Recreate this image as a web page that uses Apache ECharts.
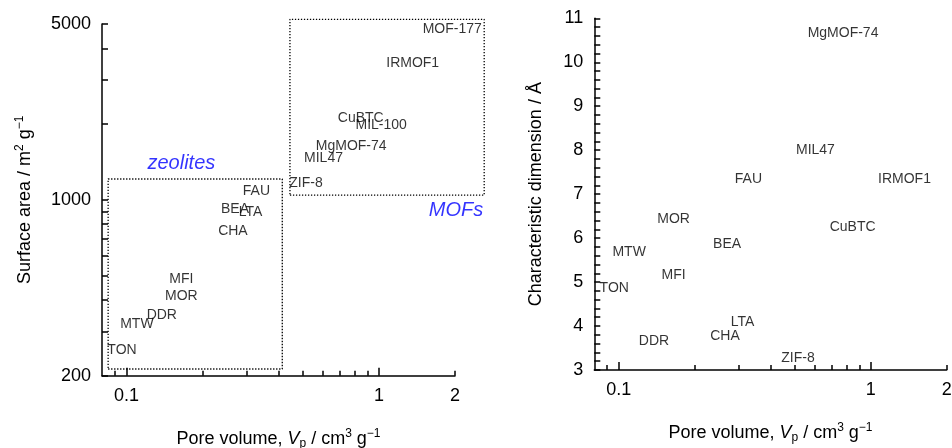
<!DOCTYPE html>
<html>
<head>
<meta charset="utf-8">
<script src="https://cdn.jsdelivr.net/npm/echarts@6/dist/echarts.min.js"></script>
<style>
html,body{margin:0;padding:0;background:#fff;}
#chart{width:952px;height:448px;}
</style>
</head>
<body>
<div id="chart"></div>
<script>
// ---- data ----
const materials = ['TON','MTW','DDR','MFI','MOR','CHA','BEA','LTA','FAU','ZIF-8','MIL47','MgMOF-74','CuBTC','MIL-100','IRMOF1','MOF-177'];
const poreVolume = [0.096, 0.110, 0.138, 0.165, 0.165, 0.264, 0.269, 0.310, 0.327, 0.514, 0.603, 0.776, 0.847, 1.02, 1.36, 1.95];
const surfaceArea = [253, 321, 349, 483, 415, 754, 919, 894, 1084, 1163, 1471, 1637, 2109, 1984, 3510, 4764];
const charDimension = [4.86, 5.68, 3.66, 5.16, 6.44, 3.77, 5.87, 4.10, 7.35, 3.27, 8.00, 10.66, 6.25, null, 7.35, null];

const zeoliteBoxX = [0.0846, 0.414];
const zeoliteBoxY = [212.6, 1210];
const mofBoxX = [0.444, 2.61];
const mofBoxY = [1045, 5220];

const groupLabels = ['zeolites', 'MOFs'];
const groupLabelX = [0.165, 2.02];
const groupLabelY = [1397, 906];

const xTickValues = [0.09,0.1,0.2,0.3,0.4,0.5,0.6,0.7,0.8,0.9,1,2];
const xMajorTicks = [0.1, 1];
const xLabelValues = [0.1, 1, 2];
const saTickValues = [200,300,400,500,600,700,800,900,1000,2000,3000,4000,5000];
const saLabelValues = [200, 1000, 5000];

const X_MIN = 0.08, X_MAX = 2;
const SA_MIN = 200, SA_MAX = 5000;

// ---- layout ----
const G0 = {left: 102, top: 24, width: 353, height: 351.7};
const G1 = {left: 594.3, top: 18.3, width: 352.4, height: 351.7};
// an enlarged, invisible copy of the left grid (same scale) so the dotted MOF box may run past the axes
const BOX_X_MAX = 2.8, BOX_Y_MAX = 5400;
const pxPerDecX = G0.width / Math.log10(X_MAX / X_MIN);
const pxPerDecY = G0.height / Math.log10(SA_MAX / SA_MIN);
const G2 = {
  left: G0.left,
  top: G0.top - pxPerDecY * Math.log10(BOX_Y_MAX / SA_MAX),
  width: pxPerDecX * Math.log10(BOX_X_MAX / X_MIN),
  height: G0.height + pxPerDecY * Math.log10(BOX_Y_MAX / SA_MAX)
};

// ---- styles ----
const FONT = 'Liberation Sans, Arial, sans-serif';
const INK = '#000';
const richName = {
  b: {fontSize: 18, fontFamily: FONT, color: INK, lineHeight: 22},
  it: {fontSize: 18, fontFamily: FONT, color: INK, fontStyle: 'italic', lineHeight: 22},
  sup: {fontSize: 12, fontFamily: FONT, color: INK, verticalAlign: 'top', lineHeight: 10},
  sub: {fontSize: 12, fontFamily: FONT, color: INK, verticalAlign: 'bottom', lineHeight: 10}
};

function fmtNum(v) {
  const r = Math.round(v * 1000) / 1000;
  return String(r);
}

function xAxisSet(gridIndex) {
  return [{
    type: 'log', logBase: 10, gridIndex: gridIndex, min: X_MIN, max: X_MAX,
    name: '{b|Pore volume, }{it|V}{sub|p}{b| / cm}{sup|3}{b| g}{sup|\u22121}',
    nameLocation: 'middle', nameGap: 52,
    nameTextStyle: {rich: richName, fontSize: 18, fontFamily: FONT, color: INK},
    axisLine: {show: true, onZero: false, lineStyle: {color: INK, width: 1.5}},
    axisTick: {show: true, inside: true, length: 5, customValues: xTickValues, lineStyle: {color: INK, width: 1.5}},
    axisLabel: {show: true, customValues: xLabelValues, margin: 11, fontSize: 18, fontFamily: FONT, color: INK, formatter: fmtNum},
    splitLine: {show: false}, minorTick: {show: false}
  }, {
    type: 'log', logBase: 10, gridIndex: gridIndex, min: X_MIN, max: X_MAX, position: 'bottom',
    axisLine: {show: false, onZero: false},
    axisTick: {show: true, inside: true, length: 8, customValues: xMajorTicks, lineStyle: {color: INK, width: 1.5}},
    axisLabel: {show: false}, splitLine: {show: false}
  }];
}

function boxPath(xs, ys) {
  return [[xs[0], ys[0]], [xs[1], ys[0]], [xs[1], ys[1]], [xs[0], ys[1]], [xs[0], ys[0]]];
}

const leftData = materials.map((n, i) => ({name: n, value: [poreVolume[i], surfaceArea[i]]}));
const rightData = [];
materials.forEach((n, i) => { if (charDimension[i] != null) rightData.push({name: n, value: [poreVolume[i], charDimension[i]]}); });
const groupData = groupLabels.map((n, i) => ({name: n, value: [groupLabelX[i], groupLabelY[i]]}));

const labelStyle = {show: true, position: 'inside', formatter: p => p.name, fontSize: 14, fontFamily: FONT, color: '#000'};
const gridBase = {containLabel: false, outerBoundsMode: 'none'};
const boxLine = {color: '#000', width: 1.3, type: [1.3, 1.7]};

const chart = echarts.init(document.getElementById('chart'), null, {renderer: 'canvas'});
chart.setOption({
  animation: false,
  backgroundColor: '#fff',
  grid: [
    Object.assign({}, gridBase, G0),
    Object.assign({}, gridBase, G1),
    Object.assign({}, gridBase, G2)
  ],
  xAxis: xAxisSet(0).concat(xAxisSet(1)).concat([{
    type: 'log', logBase: 10, gridIndex: 2, min: X_MIN, max: BOX_X_MAX, show: false
  }]),
  yAxis: [{
    type: 'log', logBase: 10, gridIndex: 0, min: SA_MIN, max: SA_MAX,
    name: '{b|Surface area / m}{sup|2}{b| g}{sup|\u22121}',
    nameLocation: 'middle', nameGap: 66,
    nameTextStyle: {rich: richName, fontSize: 18, fontFamily: FONT, color: INK},
    axisLine: {show: true, onZero: false, lineStyle: {color: INK, width: 1.5}},
    axisTick: {show: true, inside: true, length: 6, customValues: saTickValues, lineStyle: {color: INK, width: 1.5}},
    axisLabel: {show: true, customValues: saLabelValues, margin: 11, fontSize: 18, fontFamily: FONT, color: INK, formatter: fmtNum},
    splitLine: {show: false}
  }, {
    type: 'value', gridIndex: 1, min: 3, max: 11, interval: 1,
    name: 'Characteristic dimension / \u00C5',
    nameLocation: 'middle', nameGap: 49,
    nameTextStyle: {fontSize: 18, fontFamily: FONT, color: INK},
    axisLine: {show: true, onZero: false, lineStyle: {color: INK, width: 1.5}},
    axisTick: {show: true, inside: true, length: 6, lineStyle: {color: INK, width: 1.5}},
    minorTick: {show: true, splitNumber: 5, length: 6, lineStyle: {color: INK, width: 1.5}},
    axisLabel: {show: true, margin: 11, fontSize: 18, fontFamily: FONT, color: INK},
    splitLine: {show: false}, minorSplitLine: {show: false}
  }, {
    type: 'log', logBase: 10, gridIndex: 2, min: SA_MIN, max: BOX_Y_MAX, show: false
  }],
  series: [
    {type: 'line', xAxisIndex: 4, yAxisIndex: 2, data: boxPath(zeoliteBoxX, zeoliteBoxY), symbol: 'none', clip: false,
     lineStyle: boxLine, silent: true},
    {type: 'line', xAxisIndex: 4, yAxisIndex: 2, data: boxPath(mofBoxX, mofBoxY), symbol: 'none', clip: false,
     lineStyle: boxLine, silent: true},
    {type: 'scatter', xAxisIndex: 0, yAxisIndex: 0, data: leftData, symbolSize: 1, clip: false,
     itemStyle: {color: 'rgba(0,0,0,0)'}, label: labelStyle},
    {type: 'scatter', xAxisIndex: 0, yAxisIndex: 0, data: groupData, symbolSize: 1, clip: false,
     itemStyle: {color: 'rgba(0,0,0,0)'},
     label: {show: true, position: 'inside', formatter: p => p.name, fontSize: 20, fontStyle: 'italic', fontFamily: FONT, color: '#0000ff'}},
    {type: 'scatter', xAxisIndex: 2, yAxisIndex: 1, data: rightData, symbolSize: 1, clip: false,
     itemStyle: {color: 'rgba(0,0,0,0)'}, label: labelStyle}
  ]
});
</script>
</body>
</html>
